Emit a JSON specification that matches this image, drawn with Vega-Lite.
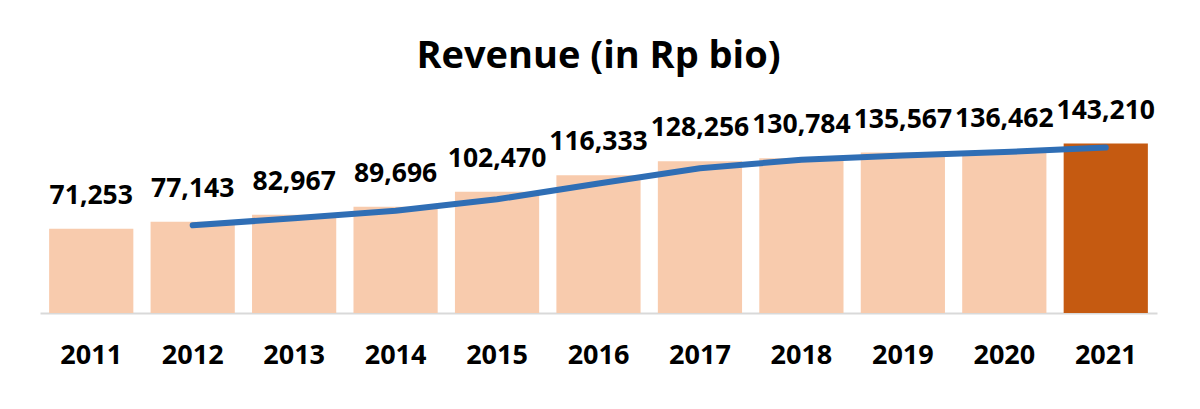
{
  "$schema": "https://vega.github.io/schema/vega-lite/v6.json",
  "width": 1117,
  "height": 213,
  "autosize": {"type": "none"},
  "padding": {"left": 40, "top": 100, "right": 43, "bottom": 96},
  "background": "white",
  "title": {"text": "Revenue (in Rp bio)", "font": "Open Sans", "fontSize": 38, "fontWeight": "bold", "color": "#000000", "anchor": "middle", "frame": "group", "offset": -8, "baseline": "alphabetic"},
  "config": {"view": {"stroke": null}},
  "data": {"values": [
    {"year": "2011", "revenue": 71253, "label": "71,253", "avg": null, "latest": "no"},
    {"year": "2012", "revenue": 77143, "label": "77,143", "avg": 74198, "latest": "no"},
    {"year": "2013", "revenue": 82967, "label": "82,967", "avg": 80055, "latest": "no"},
    {"year": "2014", "revenue": 89696, "label": "89,696", "avg": 86331.5, "latest": "no"},
    {"year": "2015", "revenue": 102470, "label": "102,470", "avg": 96083, "latest": "no"},
    {"year": "2016", "revenue": 116333, "label": "116,333", "avg": 109401.5, "latest": "no"},
    {"year": "2017", "revenue": 128256, "label": "128,256", "avg": 122294.5, "latest": "no"},
    {"year": "2018", "revenue": 130784, "label": "130,784", "avg": 129520, "latest": "no"},
    {"year": "2019", "revenue": 135567, "label": "135,567", "avg": 133175.5, "latest": "no"},
    {"year": "2020", "revenue": 136462, "label": "136,462", "avg": 136014.5, "latest": "no"},
    {"year": "2021", "revenue": 143210, "label": "143,210", "avg": 139836, "latest": "yes"}
  ]},
  "encoding": {
    "x": {"field": "year", "type": "ordinal", "title": null,
      "scale": {"paddingInner": 0.17, "paddingOuter": 0.09},
      "axis": {"labelAngle": 0, "labelFont": "Open Sans", "labelFontSize": 27, "labelFontWeight": "bold", "labelColor": "#000000", "ticks": false, "labelPadding": 50, "labelBaseline": "alphabetic", "domainColor": "#D9D9D9", "domainWidth": 2}}
  },
  "layer": [
    {
      "mark": {"type": "bar"},
      "encoding": {
        "y": {"field": "revenue", "type": "quantitative", "scale": {"domain": [0, 175000]}, "axis": null},
        "color": {"field": "latest", "type": "nominal", "scale": {"domain": ["no", "yes"], "range": ["#F8CBAD", "#C55A11"]}, "legend": null}
      }
    },
    {
      "mark": {"type": "line", "color": "#2F6EB5", "strokeWidth": 6, "strokeCap": "round", "strokeJoin": "round"},
      "transform": [{"filter": "datum.avg != null"}],
      "encoding": {
        "y": {"field": "avg", "type": "quantitative"}
      }
    },
    {
      "mark": {"type": "text", "font": "Open Sans", "fontSize": 26.5, "fontWeight": "bold", "color": "#000000", "baseline": "alphabetic", "dy": -25},
      "encoding": {
        "y": {"field": "revenue", "type": "quantitative"},
        "text": {"field": "label"}
      }
    }
  ]
}
